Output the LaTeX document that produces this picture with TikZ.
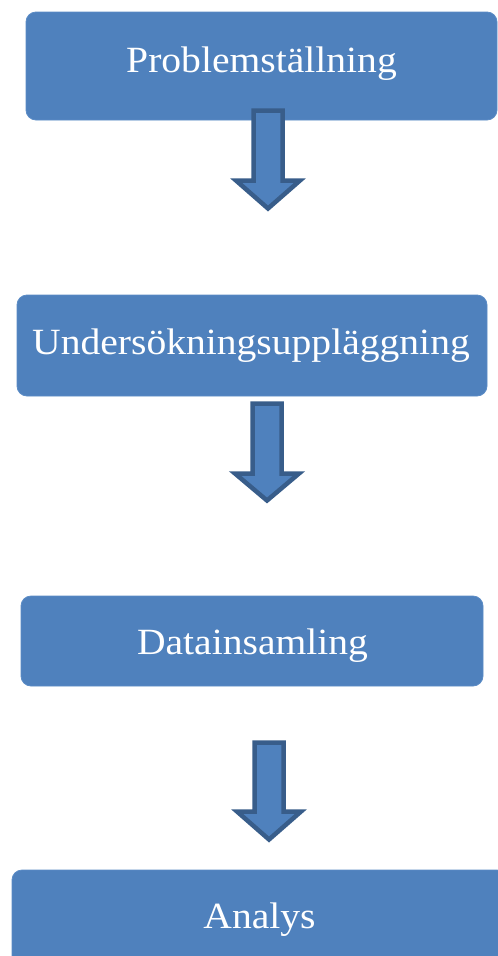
\documentclass[tikz,border=0pt]{standalone}
\usepackage{fontspec}
\setmainfont[FakeStretch=1.07]{Liberation Serif}
\usetikzlibrary{calc}
\definecolor{boxblue}{HTML}{4F81BD}
\definecolor{boxedge}{HTML}{5B8CC6}
\definecolor{arrowedge}{HTML}{385D8A}
\tikzset{
  stepbox/.style={draw=boxedge, line width=0.8pt, fill=boxblue, rounded corners=10pt},
  steptext/.style={anchor=base, text=white, font=\fontsize{37}{41}\selectfont, inner sep=0pt},
  blockarrow/.style={draw=arrowedge, fill=boxblue, line width=4.5pt, line join=miter, miter limit=10}
}
\newcommand{\blockarr}[3]{%
  \draw[blockarrow] ($(#1)+(-14.5,0)$) -- ($(#1)+(14.5,0)$) -- ($(#1)+(14.5,#2)$) -- ($(#1)+(32,#2)$)
    -- ($(#1)+(0,#3)$) -- ($(#1)+(-32,#2)$) -- ($(#1)+(-14.5,#2)$) -- cycle;%
}
\begin{document}
\begin{tikzpicture}[x=1pt,y=-1pt]
\useasboundingbox (0,0) rectangle (498,956);
\fill[white] (0,0) rectangle (498,956);
% boxes
\draw[stepbox] (26,12) rectangle (497,120);
\node[inner sep=0pt] (b1) at (261.5,66) {};
\draw[stepbox] (17,295) rectangle (487,396);
\node[inner sep=0pt] (b2) at (252,345.5) {};
\draw[stepbox] (21,596) rectangle (483,686);
\node[inner sep=0pt] (b3) at (252,641) {};
\draw[stepbox] (12,870) rectangle (507,975);
\node[inner sep=0pt] (b4) at (259.5,922) {};
% texts
\node[steptext] (t1) at (261.5,72) {Problemställning};
\node[steptext] (t2) at (251,354) {Undersökningsuppläggning};
\node[steptext] (t3) at (252.5,654) {Datainsamling};
\node[steptext] (t4) at (259.5,928) {Analys};
% arrows
\coordinate (a1) at (268,110.5);
\coordinate (a2) at (267,403.5);
\coordinate (a3) at (269,742.5);
\blockarr{a1}{70}{98}
\blockarr{a2}{70}{97}
\blockarr{a3}{69}{97}
\end{tikzpicture}
\end{document}
